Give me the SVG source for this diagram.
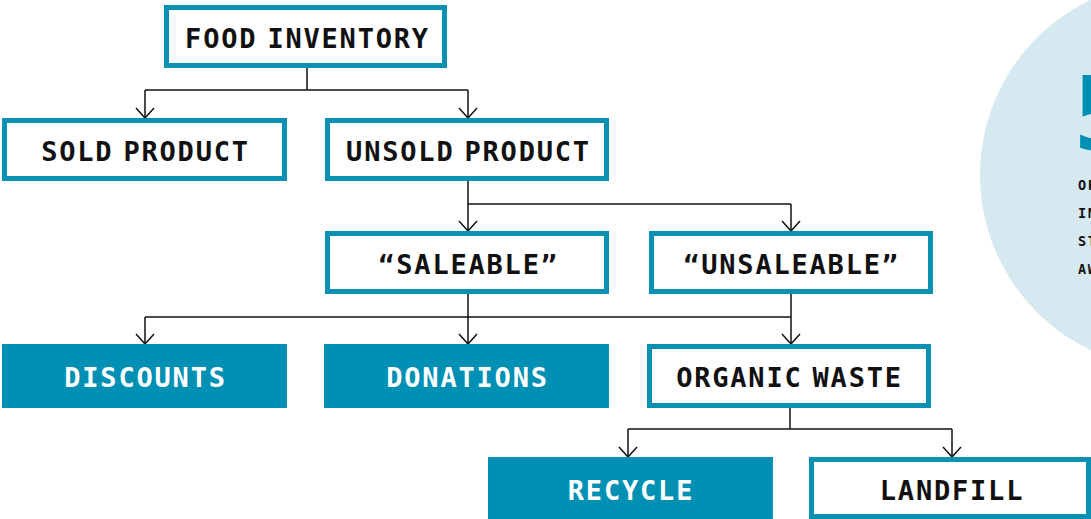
<svg xmlns="http://www.w3.org/2000/svg" width="1091" height="519" viewBox="0 0 1091 519">
  <defs>
    <style>
      .box { fill: #ffffff; stroke: #0a90b3; stroke-width: 5; }
      .fill { fill: #0090b4; }
      .lbl { font-family: "DejaVu Sans Mono", "Liberation Mono", monospace; font-weight: bold; font-size: 27px; letter-spacing: 1.8px; word-spacing: -8px; text-anchor: middle; fill: #111111; }
      .lbl.light { fill: #ffffff; }
      .wire { fill: none; stroke: #111111; stroke-width: 1.5; }
      .side { font-family: "DejaVu Sans Mono", "Liberation Mono", monospace; font-weight: bold; font-size: 13.5px; letter-spacing: 1.5px; fill: #111111; }
    </style>
    <marker id="chev" viewBox="0 0 12 20" refX="11" refY="10" markerWidth="12" markerHeight="20" markerUnits="userSpaceOnUse" orient="auto">
      <path d="M1,1 L11,10 L1,19" fill="none" stroke="#111111" stroke-width="1.5"/>
    </marker>
  </defs>

  <rect width="1091" height="519" fill="#ffffff"/>

  <!-- side callout -->
  <g id="callout">
    <circle cx="1174" cy="175" r="194" fill="#d6e8f0"/>
    <text x="1073" y="150" font-family="DejaVu Sans Mono, Liberation Mono, monospace" font-weight="bold" font-size="102" fill="#0090b4">5</text>
    <text class="side" x="1078" y="190">OF</text>
    <text class="side" x="1078" y="218">IN</text>
    <text class="side" x="1078" y="246">ST</text>
    <text class="side" x="1078" y="274">AW</text>
  </g>

  <!-- connectors -->
  <g id="connectors">
    <path class="wire" d="M307,68 V90"/>
    <path class="wire" d="M145,90 H468"/>
    <path class="wire" d="M145,90 V118" marker-end="url(#chev)"/>
    <path class="wire" d="M468,90 V118" marker-end="url(#chev)"/>

    <path class="wire" d="M468,181 V204 H791"/>
    <path class="wire" d="M468,204 V231" marker-end="url(#chev)"/>
    <path class="wire" d="M791,204 V231" marker-end="url(#chev)"/>

    <path class="wire" d="M468,294 V317"/>
    <path class="wire" d="M145,317 H791"/>
    <path class="wire" d="M145,317 V344" marker-end="url(#chev)"/>
    <path class="wire" d="M468,317 V344" marker-end="url(#chev)"/>
    <path class="wire" d="M791,294 V344" marker-end="url(#chev)"/>

    <path class="wire" d="M790,408 V429"/>
    <path class="wire" d="M628,429 H952"/>
    <path class="wire" d="M628,429 V457" marker-end="url(#chev)"/>
    <path class="wire" d="M952,429 V457" marker-end="url(#chev)"/>
  </g>

  <g id="food-inventory">
    <rect class="box" x="166.5" y="7.5" width="278" height="58"/>
    <text class="lbl" x="307.5" y="47.5">FOOD INVENTORY</text>
  </g>

  <g id="sold-product">
    <rect class="box" x="4.5" y="120.5" width="280" height="58"/>
    <text class="lbl" x="145.5" y="160.5">SOLD PRODUCT</text>
  </g>

  <g id="unsold-product">
    <rect class="box" x="327.5" y="120.5" width="279" height="58"/>
    <text class="lbl" x="468.5" y="160.5">UNSOLD PRODUCT</text>
  </g>

  <g id="saleable">
    <rect class="box" x="327.5" y="233.5" width="279" height="58"/>
    <text class="lbl" x="468.5" y="273.5">“SALEABLE”</text>
  </g>

  <g id="unsaleable">
    <rect class="box" x="651.5" y="233.5" width="279" height="58"/>
    <text class="lbl" x="791.5" y="273.5">“UNSALEABLE”</text>
  </g>

  <g id="discounts">
    <rect class="fill" x="2" y="344" width="285" height="64"/>
    <text class="lbl light" x="145.5" y="387">DISCOUNTS</text>
  </g>

  <g id="donations">
    <rect class="fill" x="324" y="344" width="285" height="64"/>
    <text class="lbl light" x="467.5" y="387">DONATIONS</text>
  </g>

  <g id="organic-waste">
    <rect class="box" x="649.5" y="346.5" width="279" height="59"/>
    <text class="lbl" x="789.5" y="387">ORGANIC WASTE</text>
  </g>

  <g id="recycle">
    <rect class="fill" x="488" y="457" width="285" height="64"/>
    <text class="lbl light" x="631" y="500">RECYCLE</text>
  </g>

  <g id="landfill">
    <rect class="box" x="811.5" y="459.5" width="277" height="57"/>
    <text class="lbl" x="952" y="500">LANDFILL</text>
  </g>
</svg>
